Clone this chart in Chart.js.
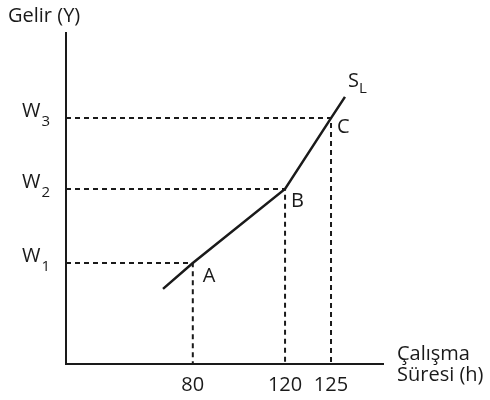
<!DOCTYPE html>
<html><head><meta charset="utf-8">
<script src="https://cdn.jsdelivr.net/npm/chart.js@4.4.1/dist/chart.umd.min.js"></script>
<style>html,body{margin:0;padding:0;background:#fff;}canvas{display:block;}</style>
</head><body>
<canvas id="c" width="490" height="400"></canvas>
<script>
// Abstract diagram units (axes run 0..10 in both directions)
const xTickLabels = ['80', '120', '125'];
const xTickPos = [4.0, 6.91, 8.36];
const yTickMain = ['W', 'W', 'W'];
const yTickSub = ['1', '2', '3'];
const yTickPos = [3.05, 5.29, 7.43];
const pointNames = ['A', 'B', 'C'];
const curveX = [3.06, 4.0, 6.91, 8.36, 8.8];
const curveY = [2.27, 3.05, 5.29, 7.43, 8.07];
const curveName = 'S';
const curveSub = 'L';
const yTitle = 'Gelir (Y)';
const xTitle = ['Çalışma', 'Süresi (h)'];

const INK = '#1a1a1a';
const FONT = '"Open Sans", Lato, sans-serif';
const BIG = '20px ' + FONT;
const SMALL = '15px ' + FONT;

const datasets = [{
  data: curveX.map((x, i) => ({x, y: curveY[i]})),
  showLine: true, borderColor: INK, borderWidth: 2.5, pointRadius: 0, tension: 0
}];
xTickPos.forEach((x, i) => {
  datasets.push({
    data: [{x: 0, y: yTickPos[i]}, {x, y: yTickPos[i]}, {x, y: 0}],
    showLine: true, borderColor: INK, borderWidth: 2, borderDash: [5, 4],
    pointRadius: 0, tension: 0
  });
});

const textPlugin = {
  id: 'texts',
  afterDraw(chart) {
    const ctx = chart.ctx, xs = chart.scales.x, ys = chart.scales.y;
    ctx.save();
    ctx.fillStyle = INK;
    ctx.textBaseline = 'alphabetic';
    // y title
    ctx.font = BIG;
    ctx.textAlign = 'left';
    ctx.fillText(yTitle, 8, 22);
    // y tick labels with subscripts
    yTickPos.forEach((v, i) => {
      const py = ys.getPixelForValue(v);
      ctx.font = BIG;
      ctx.textAlign = 'left';
      ctx.fillText(yTickMain[i], 22, py - 1);
      const w = ctx.measureText(yTickMain[i]).width;
      ctx.font = SMALL;
      ctx.fillText(yTickSub[i], 22 + w + 1, py + 8);
    });
    // x tick labels
    ctx.font = BIG;
    ctx.textAlign = 'center';
    xTickPos.forEach((v, i) => {
      ctx.fillText(xTickLabels[i], xs.getPixelForValue(v), 391);
    });
    // x title
    ctx.textAlign = 'left';
    ctx.fillText(xTitle[0], 397, 360);
    ctx.fillText(xTitle[1], 397, 381);
    // point labels
    const offs = [[10, 19], [6, 18], [6, 15]];
    xTickPos.forEach((v, i) => {
      const px = xs.getPixelForValue(v), py = ys.getPixelForValue(yTickPos[i]);
      ctx.fillText(pointNames[i], px + offs[i][0], py + offs[i][1]);
    });
    // curve label
    const ex = xs.getPixelForValue(curveX[curveX.length - 1]);
    const ey = ys.getPixelForValue(curveY[curveY.length - 1]);
    ctx.font = BIG;
    ctx.fillText(curveName, ex + 3, ey - 10);
    const sw = ctx.measureText(curveName).width;
    ctx.font = SMALL;
    ctx.fillText(curveSub, ex + 3 + sw, ey - 4);
    ctx.restore();
  }
};

new Chart(document.getElementById('c'), {
  type: 'scatter',
  data: {datasets},
  options: {
    responsive: false, animation: false,
    layout: {padding: {left: 66, top: 33, right: 107, bottom: 36}},
    plugins: {legend: {display: false}, tooltip: {enabled: false}},
    scales: {
      x: {type: 'linear', min: 0, max: 10,
          grid: {display: false, drawTicks: false},
          border: {display: true, color: INK, width: 2},
          ticks: {display: false}},
      y: {type: 'linear', min: 0, max: 10,
          grid: {display: false, drawTicks: false},
          border: {display: true, color: INK, width: 2},
          ticks: {display: false}}
    }
  },
  plugins: [textPlugin]
});
</script>
</body></html>
